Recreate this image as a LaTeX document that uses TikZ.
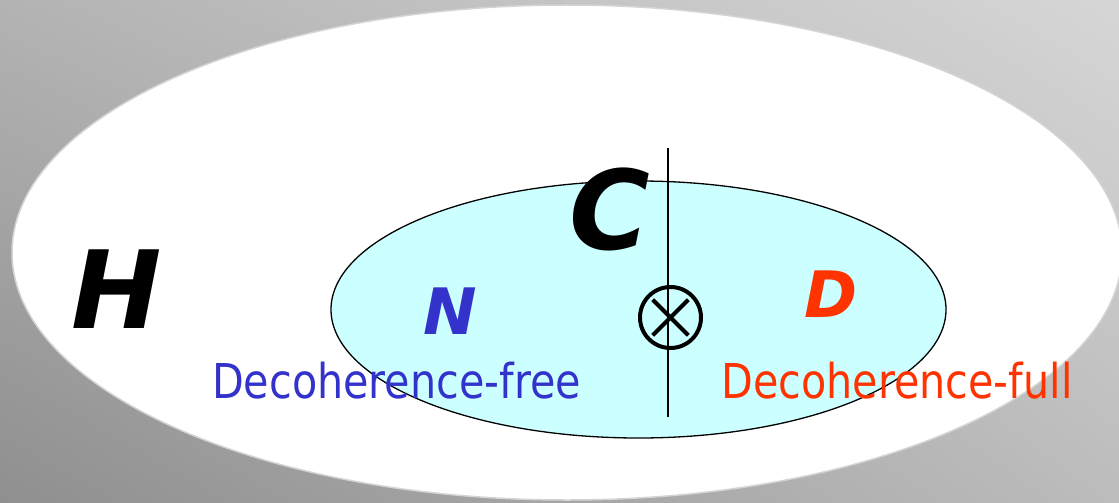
\documentclass[tikz,border=0pt]{standalone}
\usepackage{fontspec}
\setmainfont{DejaVu Sans}
\newfontfamily\labfont[FakeStretch=0.86]{DejaVu Sans}
\usetikzlibrary{shapes.geometric,shadings}
\definecolor{bgUL}{HTML}{B3B3B3}
\definecolor{bgUR}{HTML}{D6D6D6}
\definecolor{bgLL}{HTML}{8F8F8F}
\definecolor{bgLR}{HTML}{BCBCBC}
\definecolor{cyanfill}{HTML}{CCFFFF}
\definecolor{nblue}{HTML}{3333CC}
\definecolor{dred}{HTML}{FF3300}
\definecolor{rimgray}{HTML}{D4D4D4}
\tikzset{
  bigletter/.style={inner sep=0pt, anchor=base, font=\fontsize{#1}{#1}\selectfont\bfseries\itshape},
  labeltext/.style={inner sep=0pt, anchor=base, font=\labfont\fontsize{48}{56}\selectfont},
  setell/.style={ellipse, inner sep=0pt, outer sep=0pt}
}
\begin{document}
\begin{tikzpicture}[x=1pt,y=-1pt]
\useasboundingbox (0,0) rectangle (1119,503);
\shade[upper left=bgUL, upper right=bgUR, lower left=bgLL, lower right=bgLR] (0,0) rectangle (1119,503);
% outer set H
\node[setell, minimum width=1110pt, minimum height=495pt, fill=white, draw=rimgray, line width=1.5pt] (Hset) at (567,252.5) {};
% inner set C
\node[setell, minimum width=615pt, minimum height=257pt, fill=cyanfill, draw=black, line width=1.3pt] (Cset) at (638.5,309.5) {};
% dividing line
\coordinate (ltop) at (668,148);
\coordinate (lbot) at (668,417);
\draw[line width=1.5pt] (ltop) -- (lbot);
% otimes
\node[circle, draw=black, line width=4pt, minimum size=61pt, inner sep=0pt] (ot) at (670.5,317.5) {};
\draw[line width=4pt] (ot.center) ++(-17.8,-17.8) -- ++(35.6,35.6);
\draw[line width=4pt] (ot.center) ++(17.8,-17.8) -- ++(-35.6,35.6);
% letters
\node[bigletter=108] (H) at (117,328) {H};
\node[bigletter=110] (C) at (610,249) {C};
\node[bigletter=64, text=nblue] (N) at (450,334) {N};
\node[bigletter=64, text=dred] (D) at (831,317) {D};
% labels
\node[labeltext, text=nblue] (free) at (396.5,398) {Decoherence-free};
\node[labeltext, text=dred] (full) at (897,398) {Decoherence-full};
\end{tikzpicture}
\end{document}
